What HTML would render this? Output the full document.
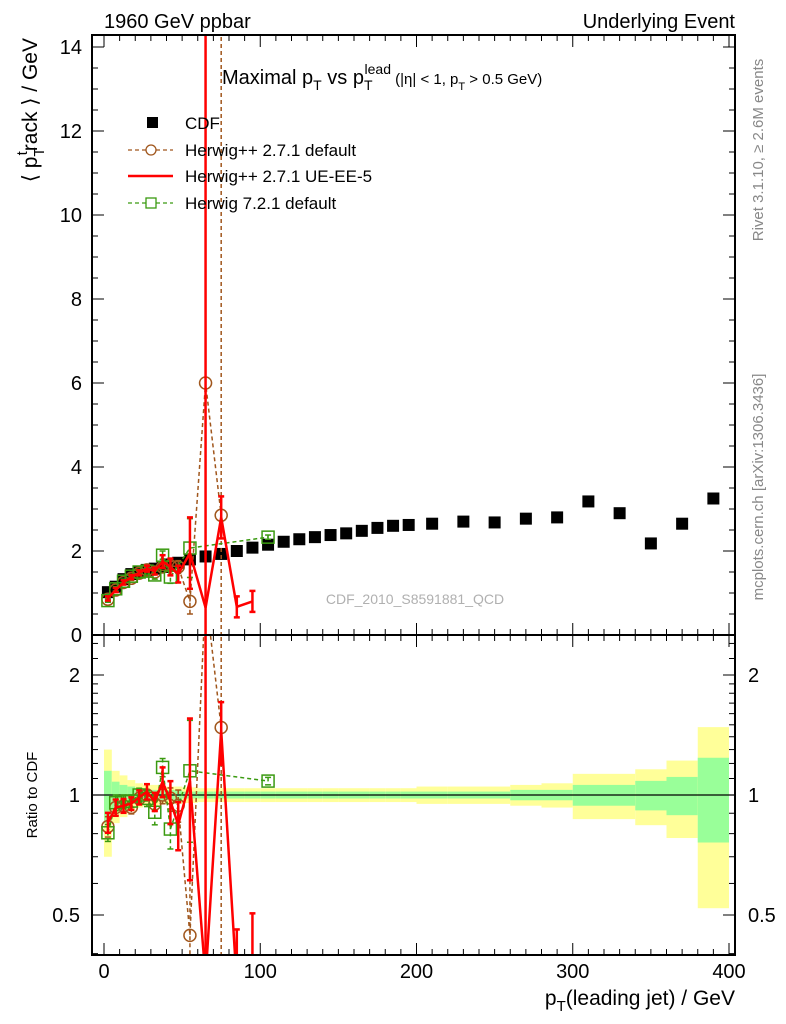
<!DOCTYPE html>
<html><head><meta charset="utf-8"><style>
html,body{margin:0;padding:0;background:#fff;overflow:hidden;width:786px;height:1024px}
svg{display:block;font-family:"Liberation Sans",sans-serif}
</style></head><body>
<svg id="chart" width="786" height="1024" viewBox="0 0 786 1024" xmlns="http://www.w3.org/2000/svg">
<text x="104" y="28" font-size="20">1960 GeV ppbar</text>
<text x="735" y="28" font-size="20" text-anchor="end">Underlying Event</text>
<text x="222" y="84" font-size="20">Maximal p<tspan dy="6" font-size="14">T</tspan><tspan dy="-6"> vs p</tspan><tspan dy="6" font-size="14">T</tspan><tspan dx="-8" dy="-16" font-size="14">lead</tspan><tspan dy="10" font-size="15"> (|η| &lt; 1, p</tspan><tspan dy="6" font-size="11">T</tspan><tspan dy="-6" font-size="15"> &gt; 0.5 GeV)</tspan></text>
<text x="415" y="604" font-size="14" fill="#b0b0b0" text-anchor="middle">CDF_2010_S8591881_QCD</text>
<text transform="translate(763,150) rotate(-90)" font-size="15" fill="#888" text-anchor="middle">Rivet 3.1.10, ≥ 2.6M events</text>
<text transform="translate(763,487) rotate(-90)" font-size="15" fill="#888" text-anchor="middle">mcplots.cern.ch [arXiv:1306.3436]</text>
<text transform="translate(37,38) rotate(-90)" font-size="21" text-anchor="end">⟨ p<tspan dy="7" font-size="15">T</tspan><tspan dx="-8" dy="-17" font-size="15">t</tspan><tspan dy="10">rack ⟩ / GeV</tspan></text>
<text transform="translate(37,795) rotate(-90)" font-size="15" text-anchor="middle">Ratio to CDF</text>
<text x="735" y="1005" font-size="21" text-anchor="end">p<tspan dy="6" font-size="15">T</tspan><tspan dy="-6">(leading jet) / GeV</tspan></text>
<g id="legend">
<rect x="147" y="117" width="11" height="11" fill="#000"/>
<text x="185" y="129" font-size="17">CDF</text>
<line x1="128" y1="150" x2="173" y2="150" stroke="#a0561c" stroke-dasharray="4,3" stroke-width="1.3"/>
<circle cx="151" cy="150" r="5" fill="#fff" stroke="#a0561c" stroke-width="1.3"/>
<text x="185" y="156" font-size="17">Herwig++ 2.7.1 default</text>
<line x1="128" y1="176" x2="173" y2="176" stroke="#f00" stroke-width="2.5"/>
<text x="185" y="182" font-size="17">Herwig++ 2.7.1 UE-EE-5</text>
<line x1="128" y1="203" x2="173" y2="203" stroke="#3a9a10" stroke-dasharray="4,3" stroke-width="1.3"/>
<rect x="146" y="198" width="10" height="10" fill="#fff" stroke="#3a9a10" stroke-width="1.3"/>
<text x="185" y="209" font-size="17">Herwig 7.2.1 default</text>
</g>
</svg>
<script>
// ---- data ----
const cdfX = [2.5,7.5,12.5,17.5,22.5,27.5,32.5,37.5,42.5,47.5,55,65,75,85,95,105,115,125,135,145,155,165,175,185,195,210,230,250,270,290,310,330,350,370,390];
const cdfY = [1.02,1.15,1.33,1.45,1.5,1.55,1.58,1.62,1.68,1.72,1.8,1.87,1.93,2.0,2.08,2.15,2.22,2.28,2.33,2.38,2.42,2.48,2.55,2.6,2.62,2.65,2.7,2.68,2.77,2.8,3.18,2.9,2.18,2.65,3.25];
const binLo = [0,5,10,15,20,25,30,35,40,45,50,60,70,80,90,100,110,120,130,140,150,160,170,180,190,200,220,240,260,280,300,320,340,360,380];
const binHi = [5,10,15,20,25,30,35,40,45,50,60,70,80,90,100,110,120,130,140,150,160,170,180,190,200,220,240,260,280,300,320,340,360,380,400];
const statErr = [0.15,0.08,0.06,0.05,0.04,0.03,0.03,0.03,0.03,0.03,0.02,0.02,0.02,0.02,0.02,0.02,0.02,0.02,0.02,0.02,0.02,0.02,0.02,0.02,0.02,0.02,0.02,0.02,0.03,0.03,0.06,0.06,0.085,0.11,0.24];
const totErr = [0.3,0.15,0.12,0.09,0.07,0.06,0.06,0.05,0.05,0.05,0.045,0.04,0.04,0.04,0.04,0.04,0.04,0.04,0.04,0.04,0.04,0.04,0.04,0.04,0.04,0.05,0.05,0.05,0.06,0.07,0.13,0.13,0.16,0.22,0.48];
const hppX = [2.5,7.5,12.5,17.5,22.5,27.5,32.5,37.5,42.5,47.5,55,65,75];
const hppY = [0.85,1.07,1.25,1.35,1.47,1.55,1.5,1.62,1.65,1.62,0.8,6.0,2.85];
const hppE = [0.05,0.05,0.05,0.05,0.05,0.05,0.06,0.08,0.1,0.15,0.3,30,30];
const ueX = [2.5,7.5,12.5,17.5,22.5,27.5,32.5,37.5,42.5,47.5,55,65,75,85,95];
const ueY = [0.87,1.07,1.25,1.38,1.48,1.58,1.52,1.75,1.62,1.45,1.95,0.65,2.8,0.67,0.8];
const ueE = [0.05,0.05,0.05,0.05,0.06,0.07,0.08,0.15,0.2,0.2,0.85,30,0.5,0.25,0.25];
const h7X = [2.5,7.5,12.5,17.5,22.5,27.5,32.5,37.5,42.5,55,105];
const h7Y = [0.82,1.1,1.28,1.4,1.5,1.52,1.43,1.9,1.38,2.07,2.33];
const h7E = [0.04,0.05,0.05,0.05,0.06,0.07,0.1,0.1,0.15,0.7,0.05];
const xTicks = [0,100,200,300,400];
const yTicks = [0,2,4,6,8,10,12,14];
const rTicks = [0.5,1,2];

// ---- axes ----
const L=92,R=735,T=35,M=635,B=955;
const sx = v => 104 + v*1.5625;
const sy = v => 635 - v*42;
const sr = r => 795 - 120*Math.log2(r);
const svg = document.getElementById('chart');
const NS='http://www.w3.org/2000/svg';
function mk(tag, at, parent){const e=document.createElementNS(NS,tag);for(const k in at)e.setAttribute(k,at[k]);(parent||svg).appendChild(e);return e;}
const clamp=(v,a,b)=>Math.min(b,Math.max(a,v));
const defs = mk('defs',{});
const c1 = mk('clipPath',{id:'cm'},defs); mk('rect',{x:L,y:T,width:R-L,height:M-T},c1);
const c2 = mk('clipPath',{id:'cr'},defs); mk('rect',{x:L,y:M,width:R-L,height:B-M},c2);
const gMain = mk('g',{'clip-path':'url(#cm)'});


const gRat = mk('g',{'clip-path':'url(#cr)'});


svg.insertBefore(gRat, svg.firstChild);
svg.insertBefore(gMain, svg.firstChild);

// bands
for(let i=0;i<binLo.length;i++){
  const y1=mk('rect',{x:sx(binLo[i]),y:sr(1+totErr[i]),width:sx(binHi[i])-sx(binLo[i]),height:sr(1-totErr[i])-sr(1+totErr[i]),fill:'#ffff99'},gRat);
  
  
  const g1=mk('rect',{x:sx(binLo[i]),y:sr(1+statErr[i]),width:sx(binHi[i])-sx(binLo[i]),height:sr(1-statErr[i])-sr(1+statErr[i]),fill:'#99ff99'},gRat);
  
  
}
const ref=mk('line',{x1:L,x2:R,y1:sr(1),y2:sr(1),stroke:'#000','stroke-width':1.3},gRat);



// CDF markers
cdfX.forEach((x,i)=>{
  const r=mk('rect',{x:sx(x)-6,y:sy(cdfY[i])-6,width:12,height:12,fill:'#000'},gMain);
  
  
});

function cdfAt(x){const i=cdfX.indexOf(x);return i>=0?cdfY[i]:null;}
function series(xs,ys,es,color,dash,width,marker,name){
  [[gMain,sy,1,T,M],[gRat,sr,0,M,B]].forEach(([g,f,isMain,top,bot])=>{
    const val=(i)=>isMain?ys[i]:ys[i]/cdfAt(xs[i]);
    const lo=(i)=>isMain?ys[i]-es[i]:Math.max(1e-3,(ys[i]-es[i])/cdfAt(xs[i]));
    const hi=(i)=>isMain?ys[i]+es[i]:(ys[i]+es[i])/cdfAt(xs[i]);
    const pts=xs.map((x,i)=>sx(x)+','+clamp(f(val(i)),top-400,bot+400)).join(' ');
    const pl=mk('polyline',{points:pts,fill:'none',stroke:color,'stroke-width':width,'stroke-dasharray':dash},g);
    
    
    xs.forEach((x,i)=>{
      let y1=f(hi(i)),y2=f(lo(i));
      if(!isFinite(y2)) y2=bot+10;
      const eb=mk('line',{x1:sx(x),x2:sx(x),y1:clamp(y1,top-5,bot+5),y2:clamp(y2,top-5,bot+5),stroke:color,'stroke-width':width,'stroke-dasharray':dash},g);
      
      
      [y1,y2].forEach(yy=>{ if(yy<top||yy>bot) return;
        const c=mk('line',{x1:sx(x)-3,x2:sx(x)+3,y1:yy,y2:yy,stroke:color,'stroke-width':width},g);
        
        });
      const cy=f(val(i));
      if(cy<top-10||cy>bot+10) return;
      let m=null;
      if(marker==='circle') m=mk('circle',{cx:sx(x),cy:cy,r:6,fill:'none',stroke:color,'stroke-width':1.5},g);
      if(marker==='square') m=mk('rect',{x:sx(x)-6,y:cy-6,width:12,height:12,fill:'none',stroke:color,'stroke-width':1.5},g);
      if(m){
        }
    });
  });
}
series(hppX,hppY,hppE,'#a0561c','4,3',1.5,'circle','herwigpp-default');
series(h7X,h7Y,h7E,'#3a9a10','4,3',1.5,'square','herwig7-default');
series(ueX,ueY,ueE,'#f00','',2.5,null,'herwigpp-ueee5');

// frames
[[T,M,'main-frame'],[M,B,'ratio-frame']].forEach(([a,b,n])=>{
  const f=mk('rect',{x:L,y:a,width:R-L,height:b-a,fill:'none',stroke:'#000','stroke-width':2});
  
  
});
// x ticks
for(let v=0;v<=400;v+=10){
  const len=v%100===0?12:6;
  [[T,1],[M,-1],[M,1],[B,-1]].forEach(([y0,d])=>{
    const t=mk('line',{x1:sx(v),x2:sx(v),y1:y0,y2:y0+d*len,stroke:'#000','stroke-width':1});
    
    
  });
}
xTicks.forEach(v=>{
  const t=mk('text',{x:sx(v),y:978,'font-size':20,'text-anchor':'middle'});
  t.textContent=v;
  
  
});
// main y ticks
for(let v=0;v<=14;v+=0.5){
  const len=Math.abs(v%2)<1e-9?12:6;
  [[L,1],[R,-1]].forEach(([x0,d])=>{
    const t=mk('line',{x1:x0,x2:x0+d*len,y1:sy(v),y2:sy(v),stroke:'#000','stroke-width':1});
    
    
  });
}
yTicks.forEach(v=>{
  const t=mk('text',{x:82,y:sy(v)+7,'font-size':20,'text-anchor':'end'});
  t.textContent=v;
  
  
});
// ratio ticks
[0.4,0.5,0.6,0.7,0.8,0.9,1,1.1,1.2,1.3,1.4,1.5,1.6,1.7,1.8,1.9,2,2.2,2.4].forEach(v=>{
  const len=rTicks.includes(v)?12:6;
  [[L,1],[R,-1]].forEach(([x0,d])=>{
    const t=mk('line',{x1:x0,x2:x0+d*len,y1:sr(v),y2:sr(v),stroke:'#000','stroke-width':1});
    
    
  });
});
rTicks.forEach(v=>{
  [[80,'end'],[748,'start']].forEach(([x,a])=>{
    const t=mk('text',{x:x,y:sr(v)+7,'font-size':20,'text-anchor':a});
    t.textContent=v;
    
    
  });
});
</script>
</body></html>
